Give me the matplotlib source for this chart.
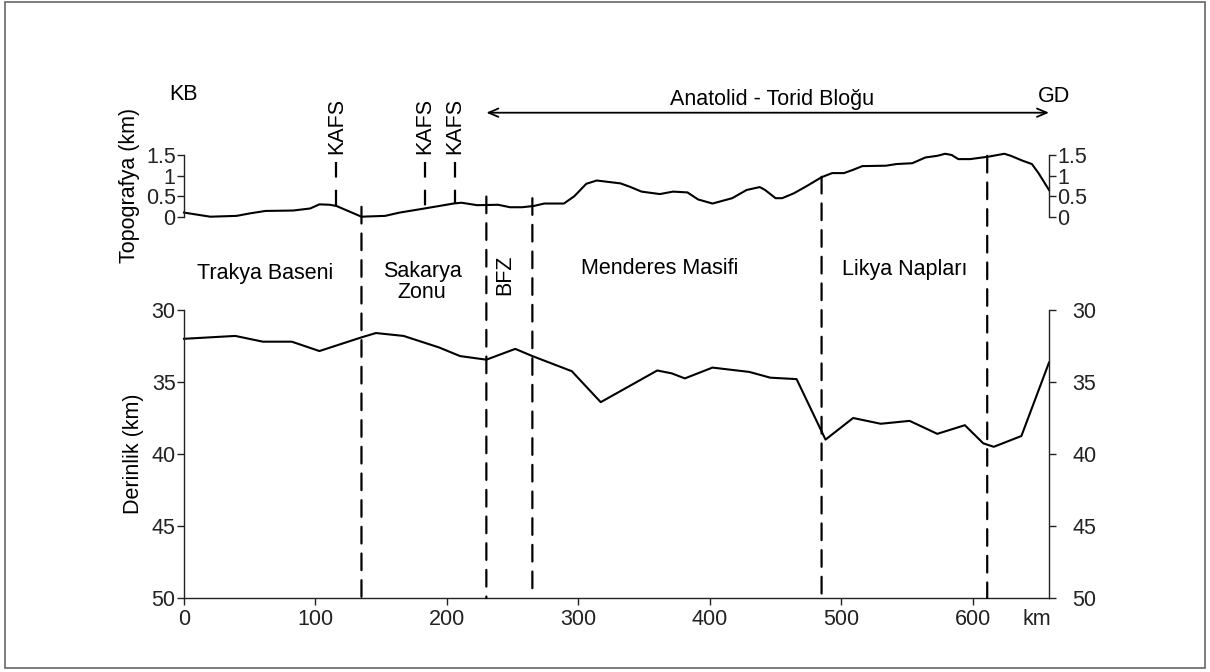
import matplotlib
matplotlib.use("Agg")
import matplotlib.pyplot as plt
import matplotlib.transforms as mtransforms
from matplotlib.patches import ConnectionPatch, Rectangle

plt.rcParams['font.family'] = ['Liberation Sans', 'DejaVu Sans']

# ---------------- data ----------------
topo_km = [0, 20, 40, 50, 62, 83, 96, 103, 111, 116, 135, 153, 164, 183, 205, 211, 223, 239, 248, 257,
           266, 274, 289, 297, 306, 314, 332, 339, 348, 362, 372, 383, 391, 402, 417, 428, 438, 442, 450, 455,
           464, 474, 485, 493, 502, 509, 516, 534, 542, 554, 564, 573, 579, 584, 589, 598, 612, 624, 629, 638,
           645, 650, 658]
topo_val = [0.1, 0.0, 0.02, 0.08, 0.14, 0.15, 0.2, 0.3, 0.29, 0.26, 0.0, 0.02, 0.1, 0.2, 0.32, 0.34, 0.28, 0.29, 0.23, 0.23,
            0.26, 0.32, 0.32, 0.5, 0.8, 0.88, 0.81, 0.73, 0.61, 0.55, 0.61, 0.59, 0.42, 0.32, 0.45, 0.65, 0.72, 0.65, 0.45, 0.45,
            0.57, 0.75, 0.96, 1.06, 1.06, 1.14, 1.23, 1.24, 1.28, 1.3, 1.44, 1.48, 1.53, 1.5, 1.4, 1.4, 1.46, 1.53, 1.48, 1.36,
            1.28, 1.06, 0.65]

depth_km = [0, 39, 60, 82, 103, 135, 146, 167, 194, 210, 230, 252, 265, 295, 317, 360, 371, 381, 402, 430,
            446, 466, 488, 509, 530, 552, 573, 594, 608, 616, 637, 658]
depth_val = [32.0, 31.8, 32.2, 32.2, 32.85, 31.9, 31.6, 31.8, 32.6, 33.2, 33.45, 32.7, 33.2, 34.25, 36.4, 34.2, 34.4, 34.75, 34.0, 34.3,
             34.7, 34.8, 39.0, 37.5, 37.9, 37.7, 38.6, 38.0, 39.26, 39.5, 38.75, 33.65]

boundary_km = [135, 230, 265, 485, 611]
boundary_top = [0.24, 0.49, 0.45, 0.97, 1.48]   # topography (km) where each dashed boundary starts

kafs_km = [116, 183, 206]
kafs_base = [0.26, 0.2, 0.32]
kafs_top = 1.33

region_names = ["Trakya Baseni", "Sakarya\nZonu", "Menderes Masifi", "Likya Napları"]
region_km = [62, 181, 362, 548]
region_ypx = [273, 282, 269, 269]

topo_ticks = [0, 0.5, 1, 1.5]
topo_ticklabels = ["0", "0.5", "1", "1.5"]
depth_ticks = [30, 35, 40, 45, 50]
x_ticks = [0, 100, 200, 300, 400, 500, 600]

# ---------------- figure ----------------
W, H = 1210, 672
fig = plt.figure(figsize=(W / 100, H / 100), dpi=100)
FS = 15.5


def fx(px):
    return px / W


def fy(py):
    return 1 - py / H


left, right = fx(184), fx(1049)
ax_t = fig.add_axes([left, fy(216.7), right - left, fy(155) - fy(216.7)])
ax_d = fig.add_axes([left, fy(598), right - left, fy(310) - fy(598)])

xmax = 658
lw_data = 1.5
spine_c = '#222222'

# topography panel
ax_t.plot(topo_km, topo_val, color='black', lw=lw_data, clip_on=False, solid_joinstyle='round')
ax_t.set_xlim(0, xmax)
ax_t.set_ylim(0, 1.5)
for s in ['top', 'bottom']:
    ax_t.spines[s].set_visible(False)
for s in ['left', 'right']:
    ax_t.spines[s].set_color(spine_c)
    ax_t.spines[s].set_linewidth(1.0)
ax_t.set_xticks([])
ax_t.set_yticks(topo_ticks)
ax_t.set_yticklabels(topo_ticklabels)
ax_t.tick_params(axis='y', which='both', left=True, right=True, labelleft=True, labelright=True,
                 direction='out', length=5, width=1.0, pad=1, labelsize=FS, colors=spine_c)
ax_t.patch.set_alpha(0)
ax_t.set_ylabel("Topografya (km)", fontsize=FS)
ax_t.yaxis.set_label_coords(-0.051, 0.5)

# depth panel
ax_d.plot(depth_km, depth_val, color='black', lw=lw_data, clip_on=False)
ax_d.set_xlim(0, xmax)
ax_d.set_ylim(50, 30)
ax_d.spines['top'].set_visible(False)
for s in ['left', 'right', 'bottom']:
    ax_d.spines[s].set_color(spine_c)
    ax_d.spines[s].set_linewidth(1.0)
ax_d.set_yticks(depth_ticks)
ax_d.set_xticks(x_ticks)
ax_d.tick_params(axis='y', left=True, right=True, labelleft=True, labelright=False,
                 direction='out', length=5, width=1.0, pad=1, labelsize=FS, colors=spine_c)
ax_d.tick_params(axis='x', direction='out', length=5, width=1.0, pad=3, labelsize=FS, colors=spine_c)
ax_d.patch.set_alpha(0)
ax_d.set_ylabel("Derinlik (km)", fontsize=FS)
ax_d.yaxis.set_label_coords(-0.046, 0.5)

# right-hand depth labels (further from the axis)
ax_r = ax_d.twinx()
ax_r.set_ylim(50, 30)
ax_r.set_yticks(depth_ticks)
for s in ['top', 'left', 'bottom', 'right']:
    ax_r.spines[s].set_visible(False)
ax_r.tick_params(axis='y', right=True, direction='out', length=5, width=1.0, pad=12,
                 labelsize=FS, colors=spine_c)

# "km" unit next to the x tick labels
ax_d.annotate("km", xy=(649, 50), xycoords='data', xytext=(0, -8), textcoords='offset points',
              fontsize=FS, ha='center', va='top', color=spine_c)

# dashed boundaries spanning both panels
for bk, bt in zip(boundary_km, boundary_top):
    con = ConnectionPatch(xyA=(bk, bt), coordsA=ax_t.transData,
                          xyB=(bk, 50), coordsB=ax_d.transData,
                          color='black', lw=1.6, linestyle=(0, (7.5, 4.5)))
    fig.add_artist(con)

# KAFS markers
for kk, kb in zip(kafs_km, kafs_base):
    ax_t.plot([kk, kk], [kafs_top, kb], color='black', lw=1.6, linestyle=(0, (7, 5.5)), clip_on=False)

blend = mtransforms.blended_transform_factory(ax_d.transData, fig.transFigure)
for kk in kafs_km:
    ax_d.text(kk, fy(126), "KAFS", transform=blend, rotation=90, ha='center', va='center', fontsize=FS)

# region labels
for name, rk, ry in zip(region_names, region_km, region_ypx):
    ax_d.text(rk, fy(ry), name, transform=blend, ha='center', va='center', fontsize=FS,
              linespacing=1.0, multialignment='center')
ax_d.text(244, fy(275), "BFZ", transform=blend, rotation=90, ha='center', va='center', fontsize=FS)

# header
ax_d.text(0, fy(95), "KB", transform=blend, ha='center', va='center', fontsize=FS)
ax_d.text(662, fy(97), "GD", transform=blend, ha='center', va='center', fontsize=FS)
ax_d.annotate("", xy=(230, fy(112.7)), xytext=(658, fy(112.7)), xycoords=blend, textcoords=blend,
              arrowprops=dict(arrowstyle='<->, head_length=0.7, head_width=0.3', color='black', lw=1.3,
                              shrinkA=0, shrinkB=0))
ax_d.text(447, fy(100), "Anatolid - Torid Bloğu", transform=blend, ha='center', va='center', fontsize=FS)

# outer frame
fig.add_artist(Rectangle((fx(5), fy(668)), fx(1200), fy(2) - fy(668), transform=fig.transFigure,
                         fill=False, ec='#666666', lw=1.2))

fig.savefig("out.png", dpi=100)
